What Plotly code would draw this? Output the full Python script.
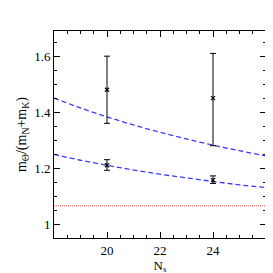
import plotly.graph_objects as go

# Data
ns_points = [20, 24]
upper_vals = [1.48, 1.45]
upper_err_plus = [0.12, 0.16]
upper_err_minus = [0.12, 0.17]
lower_vals = [1.21, 1.157]
lower_err_plus = [0.02, 0.015]
lower_err_minus = [0.018, 0.012]

curve_x = [18, 19, 20, 21, 22, 23, 24, 25, 26]
curve_upper = [1.450, 1.415, 1.383, 1.354, 1.328, 1.304, 1.282, 1.262, 1.243]
curve_lower = [1.249, 1.228, 1.210, 1.193, 1.178, 1.165, 1.152, 1.140, 1.130]

threshold_x = [18, 26]
threshold_y = [1.065, 1.065]

fig = go.Figure()
fig.add_trace(go.Scatter(x=threshold_x, y=threshold_y, mode="lines",
                         line=dict(color="#ff5050", width=1, dash="1px,1px")))
for cy in (curve_upper, curve_lower):
    fig.add_trace(go.Scatter(x=curve_x, y=cy, mode="lines",
                             line=dict(color="#3a3aff", width=1.3, dash="5px,3px", shape="spline")))
for vals, ep, em in ((upper_vals, upper_err_plus, upper_err_minus),
                     (lower_vals, lower_err_plus, lower_err_minus)):
    fig.add_trace(go.Scatter(x=ns_points, y=vals, mode="markers",
                             marker=dict(symbol="x-thin", size=4, color="black",
                                         line=dict(width=1.2, color="black")),
                             error_y=dict(type="data", symmetric=False, array=ep, arrayminus=em,
                                          color="black", thickness=1, width=3)))

axis_common = dict(showgrid=False, zeroline=False, showline=True, linecolor="black", linewidth=1,
                   mirror="allticks", ticks="inside", ticklen=6, tickcolor="black",
                   tickfont=dict(family="Liberation Serif", size=13, color="black"))
fig.update_xaxes(range=[18, 26], tickvals=[20, 22, 24], ticktext=["20", "22", "24"],
                 minor=dict(ticks="inside", ticklen=3, dtick=0.5, tick0=18, tickcolor="black"),
                 title=dict(text="N<sub>s</sub>", font=dict(family="Liberation Serif", size=13, color="black"),
                            standoff=2),
                 **axis_common)
fig.update_yaxes(range=[0.95, 1.69], tickvals=[1.0, 1.2, 1.4, 1.6], ticktext=["1", "1.2", "1.4", "1.6"],
                 minor=dict(ticks="inside", ticklen=3, dtick=0.05, tick0=1.0, tickcolor="black"),
                 title=dict(text="m<sub>Θ</sub>/(m<sub>N</sub>+m<sub>K</sub>)",
                            font=dict(family="Liberation Serif", size=14, color="black"), standoff=4),
                 **axis_common)
fig.update_layout(width=273, height=273, margin=dict(l=46, r=15, t=23, b=34),
                  plot_bgcolor="white", paper_bgcolor="white", showlegend=False)
fig.write_html("out.html")
